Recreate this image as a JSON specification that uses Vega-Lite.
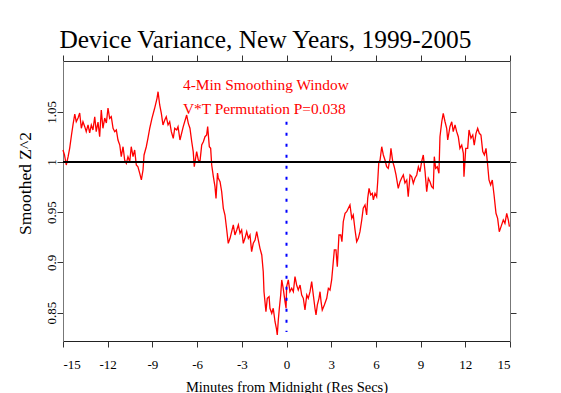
{
  "$schema": "https://vega.github.io/schema/vega-lite/v6.json",
  "width": 447,
  "height": 280,
  "autosize": {"type": "none"},
  "padding": {"left": 63, "top": 61, "right": 51, "bottom": 52},
  "background": "white",
  "title": {
    "text": "Device Variance, New Years, 1999-2005",
    "font": "Liberation Serif",
    "fontSize": 25.4,
    "fontWeight": "normal",
    "color": "black",
    "anchor": "middle",
    "dx": -21,
    "dy": 26,
    "baseline": "alphabetic",
    "offset": 7
  },
  "config": {
    "view": {"stroke": null},
    "axis": {
      "grid": false,
      "labelFont": "Liberation Serif",
      "titleFont": "Liberation Serif",
      "labelColor": "black",
      "titleColor": "black",
      "titleFontWeight": "normal",
      "tickSize": 6,
      "tickColor": "#333333",
      "domainColor": "#555555",
      "labelFontSize": 13
    }
  },
  "data": {
    "values": [
      {"minute": -15.00, "z2": 1.0120}, {"minute": -14.90, "z2": 1.0070}, {"minute": -14.78, "z2": 0.9970}, {"minute": -14.66, "z2": 1.0050},
      {"minute": -14.55, "z2": 1.0139}, {"minute": -14.43, "z2": 1.0269}, {"minute": -14.33, "z2": 1.0369}, {"minute": -14.21, "z2": 1.0478},
      {"minute": -14.11, "z2": 1.0401}, {"minute": -13.99, "z2": 1.0438}, {"minute": -13.88, "z2": 1.0488}, {"minute": -13.77, "z2": 1.0336},
      {"minute": -13.66, "z2": 1.0401}, {"minute": -13.54, "z2": 1.0352}, {"minute": -13.44, "z2": 1.0302}, {"minute": -13.32, "z2": 1.0369},
      {"minute": -13.21, "z2": 1.0289}, {"minute": -13.10, "z2": 1.0369}, {"minute": -12.99, "z2": 1.0319}, {"minute": -12.87, "z2": 1.0451},
      {"minute": -12.77, "z2": 1.0302}, {"minute": -12.65, "z2": 1.0398}, {"minute": -12.54, "z2": 1.0252}, {"minute": -12.43, "z2": 1.0518},
      {"minute": -12.32, "z2": 1.0336}, {"minute": -12.20, "z2": 1.0438}, {"minute": -12.09, "z2": 1.0388}, {"minute": -11.98, "z2": 1.0538},
      {"minute": -11.87, "z2": 1.0435}, {"minute": -11.76, "z2": 1.0451}, {"minute": -11.64, "z2": 1.0336}, {"minute": -11.53, "z2": 1.0302},
      {"minute": -11.42, "z2": 1.0319}, {"minute": -11.31, "z2": 1.0219}, {"minute": -11.19, "z2": 1.0169}, {"minute": -11.09, "z2": 1.0053},
      {"minute": -10.97, "z2": 1.0152}, {"minute": -10.86, "z2": 1.0020}, {"minute": -10.75, "z2": 0.9987}, {"minute": -10.64, "z2": 1.0053},
      {"minute": -10.52, "z2": 1.0003}, {"minute": -10.42, "z2": 1.0152}, {"minute": -10.30, "z2": 1.0053}, {"minute": -10.19, "z2": 1.0120},
      {"minute": -10.08, "z2": 0.9970}, {"minute": -9.97, "z2": 0.9953}, {"minute": -9.85, "z2": 0.9887}, {"minute": -9.74, "z2": 0.9821},
      {"minute": -9.63, "z2": 0.9920}, {"minute": -9.56, "z2": 1.0070}, {"minute": -9.41, "z2": 1.0152}, {"minute": -9.30, "z2": 1.0236},
      {"minute": -9.18, "z2": 1.0336}, {"minute": -9.03, "z2": 1.0435}, {"minute": -8.85, "z2": 1.0535}, {"minute": -8.69, "z2": 1.0634},
      {"minute": -8.62, "z2": 1.0700}, {"minute": -8.51, "z2": 1.0568}, {"minute": -8.40, "z2": 1.0485}, {"minute": -8.29, "z2": 1.0369},
      {"minute": -8.17, "z2": 1.0418}, {"minute": -8.07, "z2": 1.0451}, {"minute": -7.95, "z2": 1.0369}, {"minute": -7.84, "z2": 1.0401},
      {"minute": -7.73, "z2": 1.0302}, {"minute": -7.60, "z2": 1.0236}, {"minute": -7.50, "z2": 1.0336}, {"minute": -7.37, "z2": 1.0319},
      {"minute": -7.28, "z2": 1.0352}, {"minute": -7.15, "z2": 1.0219}, {"minute": -6.93, "z2": 1.0352}, {"minute": -6.70, "z2": 1.0468},
      {"minute": -6.59, "z2": 1.0385}, {"minute": -6.48, "z2": 1.0336}, {"minute": -6.36, "z2": 1.0202}, {"minute": -6.26, "z2": 1.0103},
      {"minute": -6.19, "z2": 0.9953}, {"minute": -6.03, "z2": 1.0103}, {"minute": -5.92, "z2": 1.0020}, {"minute": -5.81, "z2": 1.0003},
      {"minute": -5.69, "z2": 1.0169}, {"minute": -5.58, "z2": 1.0202}, {"minute": -5.47, "z2": 1.0252}, {"minute": -5.36, "z2": 1.0269},
      {"minute": -5.29, "z2": 1.0352}, {"minute": -5.18, "z2": 1.0152}, {"minute": -5.09, "z2": 1.0136}, {"minute": -5.02, "z2": 0.9970},
      {"minute": -4.91, "z2": 0.9854}, {"minute": -4.80, "z2": 0.9754}, {"minute": -4.73, "z2": 0.9638}, {"minute": -4.63, "z2": 0.9890},
      {"minute": -4.58, "z2": 0.9841}, {"minute": -4.46, "z2": 0.9804}, {"minute": -4.35, "z2": 0.9704}, {"minute": -4.24, "z2": 0.9539},
      {"minute": -4.13, "z2": 0.9472}, {"minute": -4.01, "z2": 0.9323}, {"minute": -3.91, "z2": 0.9190}, {"minute": -3.79, "z2": 0.9240},
      {"minute": -3.68, "z2": 0.9306}, {"minute": -3.57, "z2": 0.9373}, {"minute": -3.46, "z2": 0.9273}, {"minute": -3.34, "z2": 0.9323},
      {"minute": -3.23, "z2": 0.9373}, {"minute": -3.12, "z2": 0.9290}, {"minute": -3.01, "z2": 0.9323}, {"minute": -2.90, "z2": 0.9190},
      {"minute": -2.79, "z2": 0.9240}, {"minute": -2.67, "z2": 0.9306}, {"minute": -2.56, "z2": 0.9240}, {"minute": -2.45, "z2": 0.9273},
      {"minute": -2.34, "z2": 0.9107}, {"minute": -2.23, "z2": 0.9190}, {"minute": -2.11, "z2": 0.9223}, {"minute": -2.00, "z2": 0.9306},
      {"minute": -1.89, "z2": 0.9223}, {"minute": -1.78, "z2": 0.9140}, {"minute": -1.66, "z2": 0.9074}, {"minute": -1.56, "z2": 0.8907},
      {"minute": -1.51, "z2": 0.8708}, {"minute": -1.38, "z2": 0.8509}, {"minute": -1.29, "z2": 0.8642}, {"minute": -1.17, "z2": 0.8658},
      {"minute": -1.11, "z2": 0.8543}, {"minute": -0.99, "z2": 0.8493}, {"minute": -0.89, "z2": 0.8543}, {"minute": -0.77, "z2": 0.8409},
      {"minute": -0.68, "z2": 0.8344}, {"minute": -0.62, "z2": 0.8277}, {"minute": -0.55, "z2": 0.8426}, {"minute": -0.48, "z2": 0.8543},
      {"minute": -0.39, "z2": 0.8675}, {"minute": -0.32, "z2": 0.8825}, {"minute": -0.22, "z2": 0.8742}, {"minute": -0.10, "z2": 0.8609},
      {"minute": -0.03, "z2": 0.8543}, {"minute": 0.01, "z2": 0.8758}, {"minute": 0.12, "z2": 0.8825}, {"minute": 0.23, "z2": 0.8708},
      {"minute": 0.35, "z2": 0.8742}, {"minute": 0.46, "z2": 0.8708}, {"minute": 0.57, "z2": 0.8858}, {"minute": 0.68, "z2": 0.8775},
      {"minute": 0.79, "z2": 0.8725}, {"minute": 0.91, "z2": 0.8775}, {"minute": 1.02, "z2": 0.8675}, {"minute": 1.13, "z2": 0.8642},
      {"minute": 1.24, "z2": 0.8526}, {"minute": 1.36, "z2": 0.8675}, {"minute": 1.46, "z2": 0.8642}, {"minute": 1.58, "z2": 0.8708},
      {"minute": 1.69, "z2": 0.8808}, {"minute": 1.80, "z2": 0.8675}, {"minute": 1.91, "z2": 0.8543}, {"minute": 1.98, "z2": 0.8476},
      {"minute": 2.07, "z2": 0.8576}, {"minute": 2.18, "z2": 0.8642}, {"minute": 2.25, "z2": 0.8708}, {"minute": 2.32, "z2": 0.8609},
      {"minute": 2.40, "z2": 0.8526}, {"minute": 2.54, "z2": 0.8576}, {"minute": 2.70, "z2": 0.8642}, {"minute": 2.81, "z2": 0.8742},
      {"minute": 2.92, "z2": 0.8725}, {"minute": 3.03, "z2": 0.8825}, {"minute": 3.14, "z2": 0.9007}, {"minute": 3.21, "z2": 0.9124},
      {"minute": 3.32, "z2": 0.9124}, {"minute": 3.41, "z2": 0.8957}, {"minute": 3.52, "z2": 0.9273}, {"minute": 3.64, "z2": 0.9273},
      {"minute": 3.72, "z2": 0.9206}, {"minute": 3.81, "z2": 0.9405}, {"minute": 3.93, "z2": 0.9489}, {"minute": 4.04, "z2": 0.9505},
      {"minute": 4.15, "z2": 0.9539}, {"minute": 4.26, "z2": 0.9572}, {"minute": 4.38, "z2": 0.9439}, {"minute": 4.48, "z2": 0.9472},
      {"minute": 4.60, "z2": 0.9323}, {"minute": 4.71, "z2": 0.9206}, {"minute": 4.82, "z2": 0.9240}, {"minute": 4.93, "z2": 0.9306},
      {"minute": 5.05, "z2": 0.9422}, {"minute": 5.15, "z2": 0.9539}, {"minute": 5.27, "z2": 0.9572}, {"minute": 5.38, "z2": 0.9472},
      {"minute": 5.45, "z2": 0.9638}, {"minute": 5.54, "z2": 0.9738}, {"minute": 5.65, "z2": 0.9671}, {"minute": 5.76, "z2": 0.9688},
      {"minute": 5.83, "z2": 0.9622}, {"minute": 5.94, "z2": 0.9688}, {"minute": 6.05, "z2": 0.9654}, {"minute": 6.12, "z2": 0.9804},
      {"minute": 6.19, "z2": 0.9987}, {"minute": 6.28, "z2": 1.0020}, {"minute": 6.39, "z2": 1.0152}, {"minute": 6.50, "z2": 1.0070},
      {"minute": 6.61, "z2": 1.0020}, {"minute": 6.72, "z2": 0.9953}, {"minute": 6.83, "z2": 0.9937}, {"minute": 6.95, "z2": 1.0037},
      {"minute": 7.01, "z2": 1.0136}, {"minute": 7.13, "z2": 1.0003}, {"minute": 7.23, "z2": 0.9953}, {"minute": 7.35, "z2": 0.9871},
      {"minute": 7.50, "z2": 0.9738}, {"minute": 7.62, "z2": 0.9804}, {"minute": 7.73, "z2": 0.9841}, {"minute": 7.84, "z2": 0.9871},
      {"minute": 7.95, "z2": 0.9791}, {"minute": 8.07, "z2": 0.9821}, {"minute": 8.17, "z2": 0.9654}, {"minute": 8.29, "z2": 0.9871},
      {"minute": 8.40, "z2": 0.9854}, {"minute": 8.51, "z2": 0.9788}, {"minute": 8.62, "z2": 0.9838}, {"minute": 8.74, "z2": 0.9871},
      {"minute": 8.85, "z2": 0.9953}, {"minute": 8.96, "z2": 0.9903}, {"minute": 9.07, "z2": 1.0003}, {"minute": 9.18, "z2": 1.0070},
      {"minute": 9.30, "z2": 0.9903}, {"minute": 9.41, "z2": 0.9704}, {"minute": 9.52, "z2": 0.9838}, {"minute": 9.63, "z2": 0.9804},
      {"minute": 9.74, "z2": 0.9754}, {"minute": 9.85, "z2": 0.9738}, {"minute": 9.92, "z2": 1.0053}, {"minute": 10.01, "z2": 0.9937},
      {"minute": 10.12, "z2": 0.9953}, {"minute": 10.23, "z2": 0.9887}, {"minute": 10.30, "z2": 1.0252}, {"minute": 10.42, "z2": 1.0401},
      {"minute": 10.52, "z2": 1.0485}, {"minute": 10.64, "z2": 1.0401}, {"minute": 10.75, "z2": 1.0336}, {"minute": 10.82, "z2": 1.0219},
      {"minute": 10.97, "z2": 1.0352}, {"minute": 11.09, "z2": 1.0401}, {"minute": 11.19, "z2": 1.0302}, {"minute": 11.31, "z2": 1.0369},
      {"minute": 11.42, "z2": 1.0302}, {"minute": 11.53, "z2": 1.0252}, {"minute": 11.64, "z2": 1.0136}, {"minute": 11.76, "z2": 1.0169},
      {"minute": 11.87, "z2": 1.0087}, {"minute": 11.91, "z2": 0.9854}, {"minute": 12.03, "z2": 1.0136}, {"minute": 12.16, "z2": 1.0136},
      {"minute": 12.25, "z2": 1.0319}, {"minute": 12.38, "z2": 1.0236}, {"minute": 12.50, "z2": 1.0269}, {"minute": 12.60, "z2": 1.0169},
      {"minute": 12.72, "z2": 1.0286}, {"minute": 12.83, "z2": 1.0336}, {"minute": 12.94, "z2": 1.0286}, {"minute": 13.05, "z2": 1.0269},
      {"minute": 13.17, "z2": 1.0103}, {"minute": 13.28, "z2": 1.0070}, {"minute": 13.39, "z2": 1.0136}, {"minute": 13.48, "z2": 1.0003},
      {"minute": 13.59, "z2": 0.9821}, {"minute": 13.70, "z2": 0.9771}, {"minute": 13.81, "z2": 0.9821}, {"minute": 13.93, "z2": 0.9671},
      {"minute": 14.06, "z2": 0.9489}, {"minute": 14.17, "z2": 0.9439}, {"minute": 14.28, "z2": 0.9306}, {"minute": 14.40, "z2": 0.9356},
      {"minute": 14.55, "z2": 0.9422}, {"minute": 14.66, "z2": 0.9389}, {"minute": 14.78, "z2": 0.9489}, {"minute": 14.89, "z2": 0.9422},
      {"minute": 14.96, "z2": 0.9356}
    ]
  },
  "layer": [
    {
      "mark": {"type": "line", "color": "#ff0000", "strokeWidth": 1.3},
      "encoding": {
        "x": {
          "field": "minute", "type": "quantitative",
          "scale": {"domain": [-15, 15], "nice": false, "zero": false},
          "axis": {
            "orient": "bottom",
            "values": [-15, -12, -9, -6, -3, 0, 3, 6, 9, 12, 15],
            "labelExpr": "datum.value < 0 ? '-' + (-datum.value) : '' + datum.value",
            "labelBaseline": "alphabetic",
            "labelPadding": 21,
            "labelFontSize": 13,
            "domainColor": "#222222",
            "title": "Minutes from Midnight (Res Secs)",
            "titleFontSize": 14.5,
            "titleBaseline": "alphabetic",
            "titleY": 50
          }
        },
        "y": {
          "field": "z2", "type": "quantitative",
          "scale": {"domain": [0.8217, 1.1006], "nice": false, "zero": false},
          "axis": {
            "orient": "left",
            "values": [0.85, 0.9, 0.95, 1, 1.05],
            "format": "~g",
            "labelAngle": 270,
            "labelAlign": "center",
            "labelBaseline": "alphabetic",
            "labelPadding": 2,
            "labelFontSize": 13,
            "domainColor": "#777777",
            "title": "Smoothed Z^2",
            "titleFontSize": 17.5,
            "titleAngle": 270,
            "titleAlign": "center",
            "titleBaseline": "middle",
            "titleX": -38,
            "titleY": 122
          }
        }
      }
    },
    {
      "data": {"values": [{}]},
      "mark": {"type": "rule", "color": "black", "strokeWidth": 2},
      "encoding": {
        "y": {
          "datum": 1, "type": "quantitative",
          "axis": {"orient": "right", "values": [0.85, 0.9, 0.95, 1, 1.05], "labels": false, "title": null, "domainColor": "#777777"}
        }
      }
    },
    {
      "data": {"values": [{}]},
      "mark": {"type": "rule", "color": "#0000ff", "strokeWidth": 2, "strokeDash": [3, 8]},
      "encoding": {
        "x": {
          "datum": 0, "type": "quantitative",
          "axis": {"orient": "top", "values": [-15, -12, -9, -6, -3, 0, 3, 6, 9, 12, 15], "labels": false, "title": null, "domainColor": "#333333"}
        },
        "y": {"datum": 1.04, "type": "quantitative", "axis": null},
        "y2": {"datum": 0.8307}
      }
    },
    {
      "data": {"values": [{}]},
      "mark": {"type": "text", "color": "#ff0000", "font": "Liberation Serif", "fontSize": 15.4, "align": "left", "baseline": "alphabetic"},
      "encoding": {
        "x": {"datum": -6.95, "type": "quantitative", "axis": null},
        "y": {"datum": 1.0717, "type": "quantitative", "axis": null},
        "text": {"value": "4-Min Smoothing Window"}
      }
    },
    {
      "data": {"values": [{}]},
      "mark": {"type": "text", "color": "#ff0000", "font": "Liberation Serif", "fontSize": 15.4, "align": "left", "baseline": "alphabetic"},
      "encoding": {
        "x": {"datum": -6.95, "type": "quantitative", "axis": null},
        "y": {"datum": 1.0478, "type": "quantitative", "axis": null},
        "text": {"value": "V*T Permutation P=0.038"}
      }
    }
  ]
}
